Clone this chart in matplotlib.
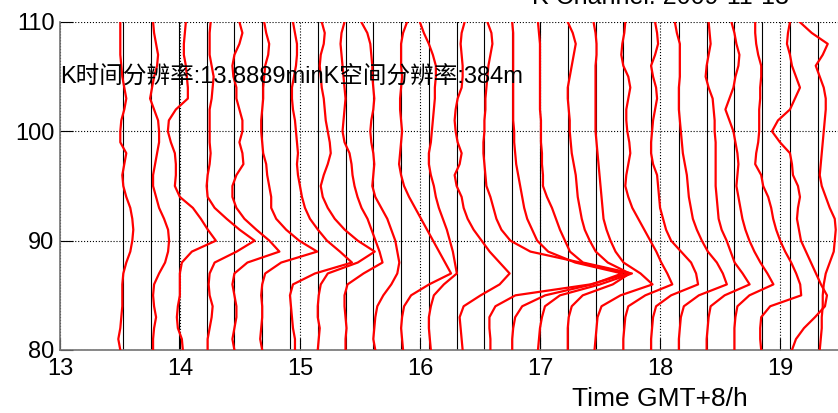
import matplotlib.pyplot as plt
import numpy as np

# altitude samples, km (top to bottom)
heights = np.arange(110, 79, -1)

# trace baselines: one profile every 13.8889 min starting 13:31.65
trace_start = 13.5275
time_step_min = 13.8889
gain = 1 / 120.0  # amplitude unit -> hours

# deflection of each profile at the sampled heights
trace_01 = [-3, -3, -3, -3, -2, -1, 1, 3, 1, -2, -3, -3, 3, 1, -1, 0, 3, 7, 9, 10, 9, 7, 3, 0, -1, -1, -1, -2, -3, -5, -3]
trace_02 = [2, 3, 5, 7, 6, 3, 1, -1, 3, 7, 8, 8, 6, 4, 2, 2, 5, 8, 13, 17, 18, 17, 14, 8, 3, 2, 3, 5, 3, 2, 2]
trace_03 = [7, 6, 5, 5, 7, 8, 9, 9, -3, -10, -11, -8, -4, -3, -3, -4, 1, 14, 22, 29, 37, 13, 3, 1, 1, 1, -1, -2, -1, 3, 4]
trace_04 = [4, 3, 3, 3, 5, 7, 6, 5, 3, 3, 3, 3, 4, 3, 1, 0, 1, 8, 20, 33, 48, 30, 8, 3, 2, 3, 6, 5, 3, 1, 1]
trace_05 = [5, 8, 5, 0, -2, -1, 2, 2, 5, 8, 8, 5, 8, 9, 2, -2, -2, 2, 10, 22, 35, 45, 13, 0, -2, 0, 2, 2, 0, -2, 0]
trace_06 = [2, 4, 7, 6, 3, 2, 1, 1, 0, -1, -1, 0, 1, 4, 5, 7, 9, 9, 14, 24, 37, 55, 19, 3, 0, -1, 0, 0, -1, -2, 0]
trace_07 = [3, 5, 7, 7, 6, 4, 2, 2, 3, 5, 6, 7, 8, 7, 8, 10, 12, 15, 20, 28, 37, 50, 62, 25, 3, 0, 1, 2, 3, 5, 5]
trace_08 = [4, 7, 6, 3, 2, 3, 4, 6, 7, 8, 10, 12, 13, 10, 6, 3, 5, 10, 17, 27, 40, 57, 40, 10, 3, 1, 0, 0, 2, 1, 0]
trace_09 = [-1, -4, -5, -4, -3, -2, -1, 0, -1, -2, -3, -1, 4, 6, 7, 9, 12, 16, 22, 26, 30, 34, 37, 18, 2, -1, -1, 0, 1, 0, 0]
trace_10 = [-12, -6, -3, -2, -1, -1, 0, 1, 0, -2, -3, -2, 0, 1, 0, -1, 2, 8, 14, 18, 22, 24, 26, 24, 18, 10, 4, 2, 1, 0, 2]
trace_11 = [6, 2, 0, 0, 0, 1, 0, -1, -1, 0, 1, 0, -1, -2, 0, 3, 8, 14, 20, 26, 32, 38, 44, 50, 28, 10, 3, 1, 0, 1, 2]
trace_12 = [-9, -5, 0, 4, 7, 7, 6, 6, 5, 4, 3, 2, 0, 0, 2, 5, 7, 10, 14, 18, 21, 24, 26, 28, 15, 5, 2, 0, 0, 1, 2]
trace_13 = [8, 5, 4, 5, 6, 6, 5, 1, -1, -2, -1, 1, 5, 3, -2, 0, 5, 7, 11, 17, 25, 33, 43, 53, 43, 24, 7, 3, 4, 5, 6]
trace_14 = [3, 7, 8, 6, 4, 3, 2, 1, 1, 0, 0, -1, -1, 0, 1, 2, 6, 9, 12, 17, 26, 46, 96, 144, 106, 31, 11, 5, 5, 6, 6]
trace_15 = [0, 1, 1, 1, 1, 1, 1, 1, 1, 1, 2, 2, 3, 4, 6, 8, 10, 12, 15, 20, 25, 36, 63, 110, 80, 33, 10, 3, 1, 0, 0]
trace_16 = [-2, -1, 0, 0, 0, 0, 0, 0, 0, 1, 1, 1, 2, 2, 3, 3, 7, 12, 16, 20, 25, 30, 43, 92, 60, 20, 5, 2, 0, -1, -2]
trace_17 = [0, 5, 8, 6, 4, 2, 0, 0, 1, 2, 2, 3, 4, 6, 8, 9, 10, 12, 14, 17, 22, 28, 40, 62, 45, 15, 4, 1, 0, 0, 0]
trace_18 = [-2, 0, 1, 1, 0, 0, 0, 0, 0, 0, 0, 1, 2, 3, 4, 5, 6, 7, 8, 11, 15, 20, 28, 45, 57, 25, 6, 2, 1, 0, -1]
trace_19 = [2, 1, -1, -2, 0, 5, 7, 5, 3, 3, 4, 6, 7, 5, 3, 2, 5, 9, 15, 21, 27, 33, 38, 44, 49, 22, 5, 2, 1, 0, 0]
trace_20 = [4, 6, 7, 4, 0, 2, 5, 6, 4, 2, 1, 0, 0, 2, 6, 7, 8, 9, 12, 15, 20, 30, 40, 45, 47, 20, 5, 2, 1, 0, 0]
trace_21 = [-4, -2, 1, 1, 1, 1, 0, 0, 0, 1, 2, 3, 4, 6, 8, 9, 10, 12, 14, 18, 23, 29, 38, 44, 48, 20, 5, 2, 1, 0, 0]
trace_22 = [2, 3, 4, 2, 0, -1, 2, 6, 7, 8, 8, 9, 9, 9, 9, 9, 10, 11, 12, 15, 20, 24, 28, 36, 43, 18, 4, 2, 1, 0, 0]
trace_23 = [-3, 0, 2, 5, 4, 1, -1, -5, -9, -5, -1, 1, 3, 4, 3, 2, 4, 6, 8, 11, 15, 20, 26, 33, 39, 15, 3, 1, 0, 0, 0]
trace_24 = [-7, -7, -6, -4, -1, -1, -2, -2, -3, -3, -3, -4, -6, -7, -1, 1, 6, 9, 11, 14, 18, 23, 29, 34, 38, 39, 8, -1, -2, -2, -1]
trace_25 = [0, -2, -3, 0, 2, 6, 10, 5, 0, -12, -18, -10, 0, 2, 3, 8, 10, 8, 7, 9, 11, 16, 21, 26, 31, 37, 35, 25, 14, 6, 2]
trace_26 = [-18, -6, 10, 5, -2, 2, 6, 8, 8, 7, 6, 5, 4, 3, 2, 4, 8, 12, 17, 18, 17, 16, 12, 8, 6, 5, 5, 4, 4, 3, 2]

traces = [trace_01, trace_02, trace_03, trace_04, trace_05, trace_06, trace_07,
          trace_08, trace_09, trace_10, trace_11, trace_12, trace_13, trace_14,
          trace_15, trace_16, trace_17, trace_18, trace_19, trace_20, trace_21,
          trace_22, trace_23, trace_24, trace_25, trace_26]

x_ticks = list(range(13, 20))
y_ticks = [80, 90, 100, 110]

latin_cjk = ['Liberation Sans', 'Noto Sans CJK SC']
plt.rcParams['font.family'] = latin_cjk

fig = plt.figure(figsize=(8.38, 4.13), dpi=100)
# the axes run past the right edge of the figure (x up to 23 h)
ax = fig.add_axes([60 / 838, 63 / 413, 1200 / 838, 328 / 413])

ax.set_xlim(13, 23)
ax.set_ylim(80, 110)
ax.grid(True, linestyle=':', color='k', linewidth=0.8)
ax.set_axisbelow(True)

for i, amp in enumerate(traces):
    base = trace_start + i * time_step_min / 60
    ax.axvline(base, color='k', linewidth=0.8, zorder=2)
    ax.plot(base + np.array(amp) * gain, heights, color='red', linewidth=1.6, zorder=3)

ax.text(13.0, 105.0, 'K时间分辨率:13.8889minK空间分辨率:384m', fontsize=17,
        family=latin_cjk, va='center', ha='left', zorder=5)

ax.set_xticks(x_ticks)
ax.set_yticks(y_ticks)
ax.tick_params(direction='in', length=9, width=0.8, labelsize=17)
ax.tick_params(axis='x', pad=6)
ax.tick_params(axis='y', pad=4)
for side in ['top', 'right']:
    ax.spines[side].set_visible(False)
for side in ['left', 'bottom']:
    ax.spines[side].set_color('0.45')
    ax.spines[side].set_linewidth(1.2)

ax.set_xlabel('Time GMT+8/h', fontsize=19, labelpad=5)
ax.set_title('K Channel: 2009-11-13', fontsize=18, pad=13)

fig.savefig('out.png', dpi=100)
